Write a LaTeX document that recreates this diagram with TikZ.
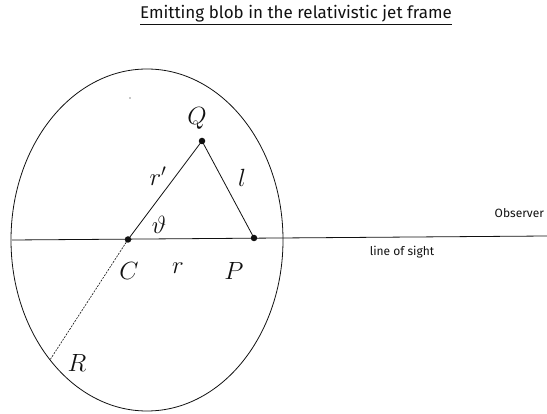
\documentclass[tikz,border=0pt]{standalone}
\usepackage{fontspec}
\setmainfont{Latin Modern Roman}
\newfontfamily\blobfont{Fira Sans}
\usetikzlibrary{calc}
\definecolor{blobInk}{HTML}{111111}
\tikzset{
	blobdot/.style={circle,fill=blobInk,inner sep=0pt,minimum size=6.5pt},
	mathlbl/.style={font=\fontsize{24}{24}\selectfont},
	textlbl/.style={font=\blobfont\fontsize{12}{14}\selectfont},
}

\begin{document}
\begin{tikzpicture}[x=1pt,y=-1pt,line width=0.8pt,blobInk]
		\useasboundingbox (0,0) rectangle (547,414);
		\node[font=\blobfont\fontsize{17}{19}\selectfont] (title) at (296,15)
			{\underline{Emitting blob in the relativistic jet frame}};
		% blob and line of sight
		\draw (147,240) ellipse [x radius=136, y radius=171];
		\coordinate (los) at (12,240);
		\coordinate (obs) at (547,236);
		\draw (los) -- (obs);
		\node[blobdot] (C) at (128,239.5) {};
		\node[blobdot] (P) at (254,238) {};
		\node[blobdot] (Q) at (202,141) {};
		\coordinate (R) at ($(147,240)+(135.5:136 and 171)$);
		\draw (C.center) -- (Q.center) -- (P.center);
		\draw[dashed,line width=0.6pt,dash pattern=on 2pt off 1.2pt] (C.center) -- (R);
		\fill (130,98) circle (0.7);
		% labels
		\node[mathlbl] (Qlbl) at (197,118) {$Q$};
		\node[mathlbl] (rplbl) at (158,176) {$r'$};
		\node[mathlbl] (llbl) at (242,178) {$l$};
		\node[mathlbl] (thlbl) at (159,225) {$\vartheta$};
		\node[mathlbl] (Clbl) at (129,271) {$C$};
		\node[mathlbl] (rlbl) at (178,268) {$r$};
		\node[mathlbl] (Plbl) at (234,271) {$P$};
		\node[mathlbl] (Rlbl) at (77,363) {$R$};
		\node[textlbl,anchor=west] (obslbl) at (491,213) {Observer};
		\node[textlbl] (loslbl) at (402,252) {line of sight};
	\end{tikzpicture}
\end{document}
